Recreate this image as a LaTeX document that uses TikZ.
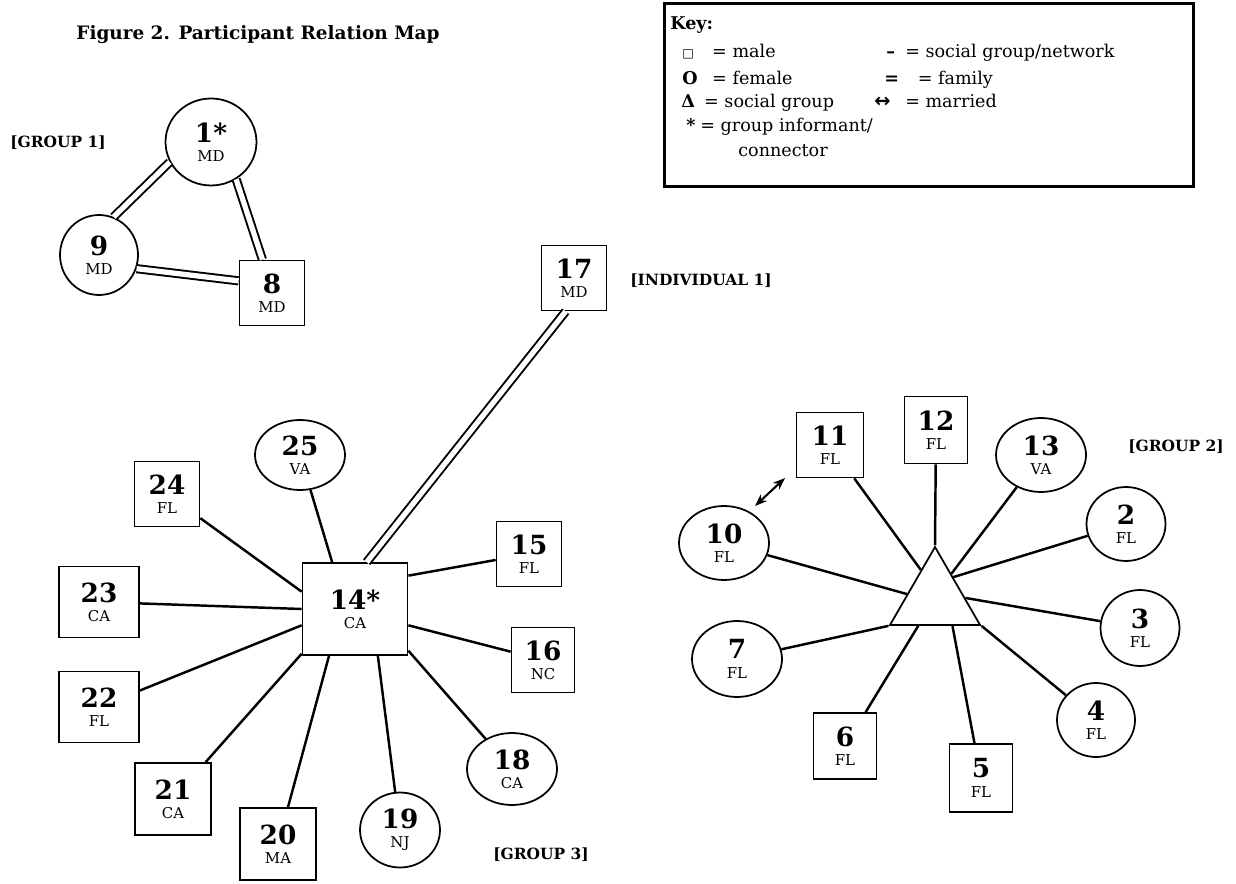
\documentclass[tikz,border=0pt]{standalone}
\usepackage{fontspec}
\setmainfont{DejaVu Serif}
\newfontfamily\symfont{DejaVu Sans}
\usetikzlibrary{arrows.meta, positioning, shapes.geometric}

\newcommand{\pid}[2]{{\fontsize{15}{15}\selectfont\bfseries #1}\\[-1pt]{\fontsize{8.5}{9}\selectfont #2}}

\begin{document}
\begin{tikzpicture}[
  x=0.02cm, y=-0.02cm,
  male/.style={draw, line width=1pt, minimum width=1.3cm, minimum height=1.3cm, inner sep=0pt, align=center},
  female/.style={draw, ellipse, line width=1pt, minimum width=1.8cm, minimum height=1.48cm, inner sep=0pt, align=center},
  tie/.style={line width=1.4pt},
  fam/.style={double, double distance=3pt, line width=1.1pt},
  lbl/.style={font=\bfseries\fontsize{8.8}{10}\selectfont},
  keytext/.style={anchor=base west, font=\fontsize{10}{12}\selectfont, inner sep=0pt}
]
\useasboundingbox (0,0) rectangle (1236,884);

% Title and key
\node[font=\bfseries\fontsize{10.5}{12}\selectfont] (title) at (258,35) {Figure 2. Participant Relation Map};
\node[draw, line width=1.8pt, minimum width=10.58cm, minimum height=3.66cm, anchor=north west] (key) at (663,2) {};
\node[keytext, font=\bfseries\fontsize{10}{12}\selectfont] (khead) at (670,30) {Key:};
\node[keytext] (kmale)   at (682,58)  {\makebox[17pt][l]{\symfont\scriptsize □}= male};
\node[keytext] (kfemale) at (682,85)  {\makebox[17pt][l]{\bfseries O}= female};
\node[keytext] (ksocial) at (681,108) {\makebox[13pt][l]{\bfseries Δ}= social group};
\node[keytext] (kinf)    at (686,132) {\makebox[8pt][l]{\bfseries *}= group informant/};
\node[keytext] (kconn)   at (738,157) {connector};
\node[keytext] (knet)    at (886,58)  {\makebox[10.8pt][l]{\bfseries –}= social group/network};
\node[keytext] (kfam)    at (884,85)  {\makebox[19pt][l]{\bfseries =}= family};
\node[keytext] (kwed)    at (874,108) {\makebox[17.6pt][l]{\symfont\bfseries\fontsize{11}{12}\selectfont ↔}= married};

% Group 1: family
\node[female, minimum width=1.82cm, minimum height=1.74cm] (n1) at (211,142) {\pid{1*}{MD}};
\node[female, minimum width=1.56cm, minimum height=1.6cm] (n9) at (99,255) {\pid{9}{MD}};
\node[male] (n8) at (272,293) {\pid{8}{MD}};
\node[lbl] (g1) at (58,143) {[GROUP 1]};

\draw[fam] (n1.206) -- (n9.69);
\draw[fam] (n1.304) -- (n8.106);
\draw[fam] (n9.340) -- (n8.160);

% Individual 1
\node[male] (n17) at (574,278) {\pid{17}{MD}};
\node[lbl] (ind1) at (701,281) {[INDIVIDUAL 1]};

% Group 3: around informant 14
\node[male, minimum width=2.1cm, minimum height=1.84cm] (n14) at (355,609) {\pid{14*}{CA}};
\node[female, minimum height=1.4cm] (n25) at (300,455) {\pid{25}{VA}};
\node[male] (n24) at (167,494) {\pid{24}{FL}};
\node[male, minimum width=1.6cm, minimum height=1.42cm] (n23) at (99,602) {\pid{23}{CA}};
\node[male, minimum width=1.6cm, minimum height=1.42cm] (n22) at (99,707) {\pid{22}{FL}};
\node[male, minimum width=1.52cm, minimum height=1.44cm] (n21) at (173,799) {\pid{21}{CA}};
\node[male, minimum width=1.52cm, minimum height=1.44cm] (n20) at (278,844) {\pid{20}{MA}};
\node[female, minimum width=1.6cm, minimum height=1.5cm] (n19) at (400,830) {\pid{19}{NJ}};
\node[female, minimum height=1.44cm] (n18) at (512,769) {\pid{18}{CA}};
\node[male, minimum width=1.26cm] (n16) at (543,660) {\pid{16}{NC}};
\node[male] (n15) at (529,554) {\pid{15}{FL}};
\node[lbl] (g3) at (541,855) {[GROUP 3]};

\draw[fam] (n17.256) -- (n14.76);
\draw[tie] (n25) -- (n14.116);
\draw[tie] (n24) -- (n14.162);
\draw[tie] (n23) -- (n14.west);
\draw[tie] (n22) -- (n14.197);
\draw[tie] (n21) -- (n14.220);
\draw[tie] (n20) -- (n14.241);
\draw[tie] (n19) -- (n14.296);
\draw[tie] (n18) -- (n14.322);
\draw[tie] (n16) -- (n14.343);
\draw[tie] (n15) -- (n14.32);

% Group 2: social group
\node[draw, regular polygon, regular polygon sides=3, minimum size=2.08cm, line width=1pt, inner sep=0pt] (grp) at (935,599) {};
\node[male, minimum width=1.34cm] (n11) at (830,445) {\pid{11}{FL}};
\node[male, minimum width=1.26cm, minimum height=1.34cm] (n12) at (936,430) {\pid{12}{FL}};
\node[female] (n13) at (1041,455) {\pid{13}{VA}};
\node[female, minimum width=1.58cm] (n2) at (1126,524) {\pid{2}{FL}};
\node[female, minimum width=1.58cm, minimum height=1.52cm] (n3) at (1140,628) {\pid{3}{FL}};
\node[female, minimum width=1.56cm] (n4) at (1096,720) {\pid{4}{FL}};
\node[male, minimum width=1.26cm, minimum height=1.36cm] (n5) at (981,778) {\pid{5}{FL}};
\node[male, minimum width=1.26cm, minimum height=1.32cm] (n6) at (845,746) {\pid{6}{FL}};
\node[female, minimum height=1.52cm] (n7) at (737,659) {\pid{7}{FL}};
\node[female] (n10) at (724,543) {\pid{10}{FL}};
\node[lbl] (g2) at (1176,447) {[GROUP 2]};

\draw[tie] (n11) -- (grp.116);
\draw[tie] (n12) -- (grp.corner 1);
\draw[tie] (n13) -- (grp.57);
\draw[tie] (n2) -- (grp.50);
\draw[tie] (n3) -- (grp.2);
\draw[tie] (n4) -- (grp.corner 3);
\draw[tie] (n5) -- (grp.303);
\draw[tie] (n6) -- (grp.238);
\draw[tie] (n7) -- (grp.corner 2);
\draw[tie] (n10) -- (grp.170);

% Married
\coordinate (wed1) at (755,506);
\coordinate (wed2) at (785,478);
\draw[{Stealth[length=7pt]}-{Stealth[length=7pt]}, line width=1.2pt] (wed1) -- (wed2);

\end{tikzpicture}
\end{document}
